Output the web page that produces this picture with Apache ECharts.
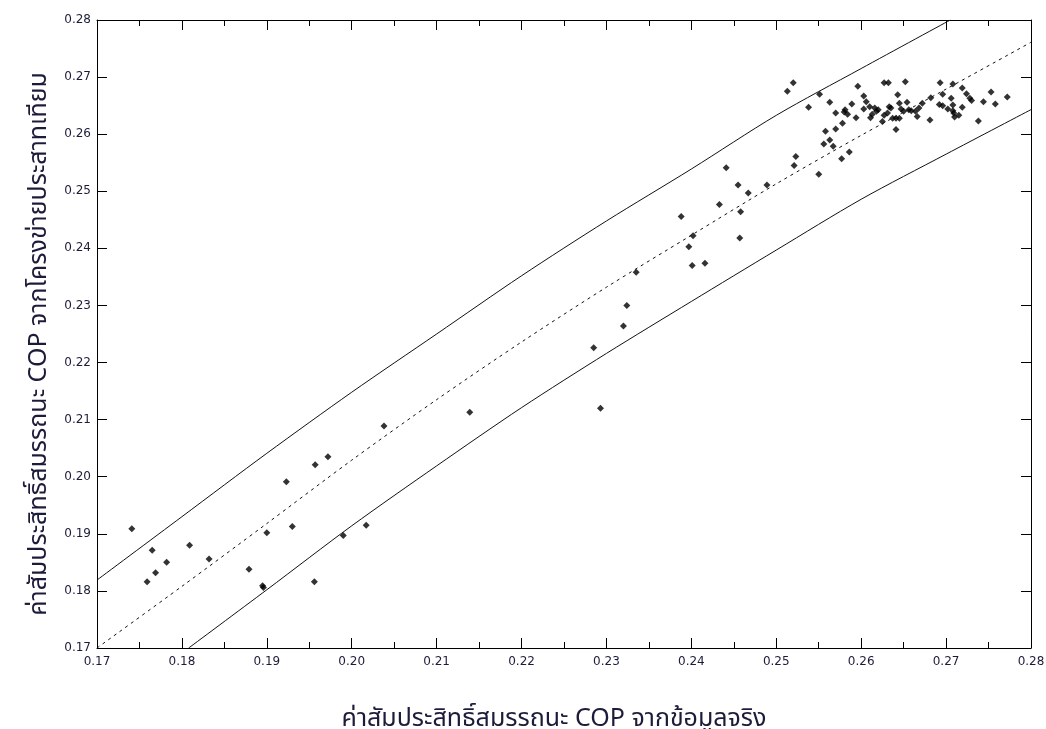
<!DOCTYPE html>
<html>
<head>
<meta charset="utf-8">
<script src="https://cdn.jsdelivr.net/npm/echarts@6/dist/echarts.min.js"></script>
<style>
html,body{margin:0;padding:0;background:#fff;}
#chart{width:1046px;height:729px;}
</style>
</head>
<body>
<div id="chart"></div>
<script>
// Axis ticks
const tickValues = [0.17,0.18,0.19,0.20,0.21,0.22,0.23,0.24,0.25,0.26,0.27,0.28];
const xTitle = 'ค่าสัมประสิทธิ์สมรรถนะ COP จากข้อมูลจริง';
const yTitle = 'ค่าสัมประสิทธิ์สมรรถนะ COP จากโครงข่ายประสาทเทียม';

// Scatter data: actual COP (x) vs ANN COP (y)
const actualCOP = [
  0.1741,0.1765,0.1759,0.1769,0.1782,0.1809,0.1832,0.1879,0.1895,0.1896,
  0.1900,0.1923,0.1930,0.1956,0.1957,0.1972,0.1990,0.2017,0.2038,0.2139,
  0.2285,0.2293,0.2320,0.2324,0.2335,0.2388,0.2397,0.2401,0.2402,0.2416,
  0.2433,0.2441,0.2455,0.2457,0.2458,0.2467,0.2489,0.2521,0.2523,
  0.2520,0.2513,0.2551,0.2538,0.2596,0.2603,0.2563,0.2589,0.2603,0.2581,
  0.2580,0.2584,0.2570,0.2594,0.2578,0.2570,0.2558,0.2563,0.2556,0.2567,
  0.2586,0.2577,0.2550,
  0.2627,0.2632,0.2652,0.2693,0.2643,0.2696,0.2682,0.2606,0.2645,0.2654,
  0.2672,0.2610,0.2616,0.2620,0.2618,0.2633,0.2635,0.2692,0.2647,0.2656,
  0.2659,0.2668,0.2664,0.2650,0.2613,0.2631,0.2627,0.2611,0.2666,0.2637,
  0.2641,0.2645,0.2625,0.2681,0.2641,
  0.2708,0.2719,0.2724,0.2753,0.2772,0.2706,0.2728,0.2730,0.2744,0.2758,
  0.2696,0.2708,0.2702,0.2719,0.2708,0.2709,0.2715,0.2710,0.2738
];
const annCOP = [
  0.1909,0.1871,0.1816,0.1832,0.1850,0.1880,0.1856,0.1838,0.1809,0.1806,
  0.1902,0.1991,0.1913,0.1816,0.2021,0.2035,0.1897,0.1915,0.2089,0.2113,
  0.2226,0.2120,0.2264,0.2300,0.2358,0.2456,0.2403,0.2370,0.2422,0.2374,
  0.2477,0.2541,0.2511,0.2418,0.2464,0.2497,0.2511,0.2545,0.2561,
  0.2690,0.2675,0.2670,0.2647,0.2684,0.2667,0.2656,0.2653,0.2644,0.2643,
  0.2639,0.2635,0.2637,0.2629,0.2619,0.2609,0.2605,0.2590,0.2583,0.2579,
  0.2569,0.2557,0.2530,
  0.2690,0.2690,0.2692,0.2690,0.2669,0.2670,0.2664,0.2657,0.2654,0.2656,
  0.2654,0.2648,0.2646,0.2643,0.2640,0.2648,0.2646,0.2652,0.2644,0.2643,
  0.2641,0.2646,0.2640,0.2640,0.2635,0.2637,0.2633,0.2629,0.2631,0.2628,
  0.2628,0.2628,0.2622,0.2625,0.2608,
  0.2688,0.2681,0.2671,0.2674,0.2665,0.2663,0.2663,0.2659,0.2657,0.2653,
  0.2650,0.2651,0.2644,0.2647,0.2641,0.2637,0.2633,0.2630,0.2623
];

// Fitted (dashed) line and bounds
const fitX   = [0.17,0.18,0.19,0.20,0.21,0.22,0.23,0.24,0.25,0.26,0.27,0.28];
const fitY   = [0.1700,0.1808,0.1918,0.2029,0.2135,0.2236,0.2332,0.2423,0.2513,0.2598,0.2679,0.2761];
const upperX = [0.17,0.18,0.19,0.20,0.21,0.22,0.23,0.24,0.25,0.26,0.2705];
const upperY = [0.1819,0.1930,0.2041,0.2148,0.2250,0.2352,0.2448,0.2539,0.2633,0.2715,0.2800];
const lowerX = [0.1808,0.19,0.20,0.21,0.22,0.23,0.24,0.25,0.26,0.27,0.28];
const lowerY = [0.1700,0.1802,0.1914,0.2019,0.2121,0.2216,0.2307,0.2397,0.2486,0.2565,0.2643];

const zip = (a,b) => a.map((v,i)=>[v,b[i]]);
const labelColor = '#1c1c3a';
const titleFont = 'Tahoma, "Noto Sans Thai", "Noto Sans", sans-serif';
const fmt = v => v.toFixed(2);
const baseAxis = {
  type:'value', min:0.17, max:0.28, interval:0.01,
  axisLine:{show:true, onZero:false, lineStyle:{color:'#000', width:1}},
  axisTick:{show:true, inside:true, length:10, lineStyle:{color:'#000'}},
  splitLine:{show:false}
};

const chart = echarts.init(document.getElementById('chart'), null, {renderer:'canvas'});
chart.setOption({
  animation:false,
  backgroundColor:'#fff',
  grid:{left:97, right:15, top:20, bottom:81, containLabel:false, outerBoundsMode:'none'},
  xAxis:[
    Object.assign({}, baseAxis, {
      position:'bottom',
      minorTick:{show:true, splitNumber:2, length:6, lineStyle:{color:'#000'}},
      axisLabel:{show:true, formatter:fmt, color:labelColor, fontSize:12, fontFamily:'DejaVu Sans', margin:8},
      name:xTitle, nameLocation:'middle', nameGap:60,
      nameTextStyle:{fontSize:25, color:labelColor, fontFamily:titleFont, padding:[0,20,0,0]}
    }),
    Object.assign({}, baseAxis, {
      position:'top',
      minorTick:{show:true, splitNumber:2, length:6, lineStyle:{color:'#000'}},
      axisLabel:{show:false}
    })
  ],
  yAxis:[
    Object.assign({}, baseAxis, {
      position:'left',
      axisLabel:{show:true, formatter:fmt, color:labelColor, fontSize:12, fontFamily:'DejaVu Sans', margin:6},
      name:yTitle, nameLocation:'middle', nameGap:40,
      nameTextStyle:{fontSize:25, color:labelColor, fontFamily:titleFont, padding:[0,20,0,0]}
    }),
    Object.assign({}, baseAxis, {
      position:'right',
      axisLabel:{show:false}
    })
  ],
  series:[
    {type:'line', data:zip(upperX, upperY), showSymbol:false, smooth:0.3, clip:true,
     lineStyle:{color:'#111', width:1}},
    {type:'line', data:zip(lowerX, lowerY), showSymbol:false, smooth:0.3, clip:true,
     lineStyle:{color:'#111', width:1}},
    {type:'line', data:zip(fitX, fitY), showSymbol:false, smooth:0.3, clip:true,
     lineStyle:{color:'#111', width:1, type:[3,4]}},
    {type:'scatter', data:zip(actualCOP, annCOP), symbol:'diamond', symbolSize:7,
     itemStyle:{color:'#000'}}
  ]
});
</script>
</body>
</html>
